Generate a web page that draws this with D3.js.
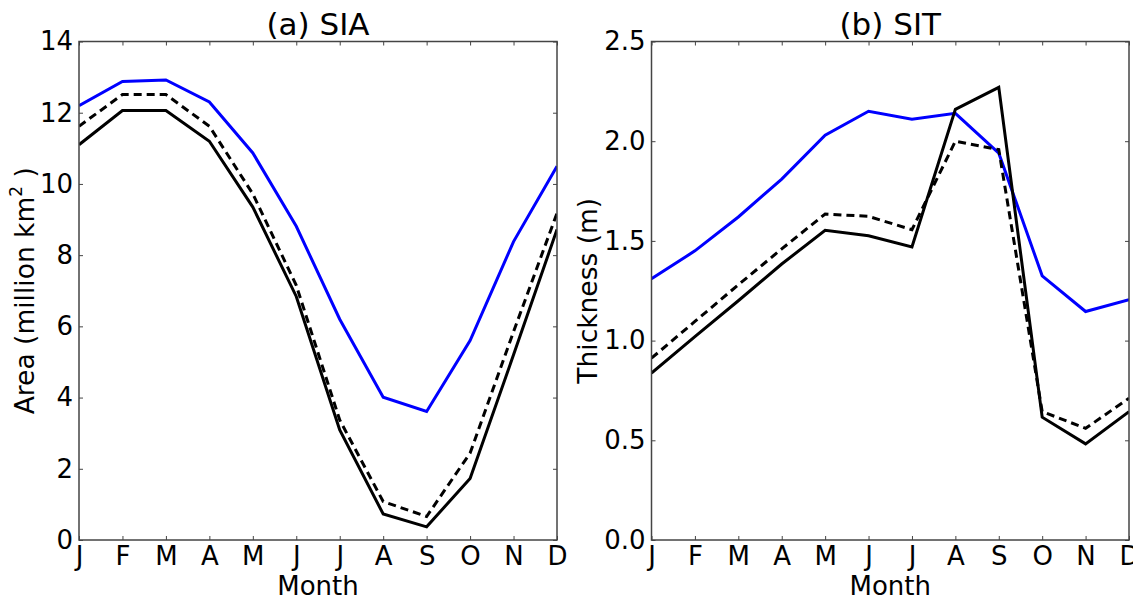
<!DOCTYPE html>
<html>
<head>
<meta charset="utf-8">
<script src="https://cdn.jsdelivr.net/npm/d3@7"></script>
<style>
  body { margin: 0; background: #fff; }
  svg { font-family: "DejaVu Sans", sans-serif; }
</style>
</head>
<body>
<div id="chart"></div>
<script>
// month tick labels
const months = ["J", "F", "M", "A", "M", "J", "J", "A", "S", "O", "N", "D"];

// (a) sea ice area, million km2
const siaBlue   = [12.2, 12.88, 12.92, 12.3, 10.87, 8.81, 6.2, 4.01, 3.61, 5.6, 8.38, 10.5];
const siaDashed = [11.62, 12.51, 12.51, 11.62, 9.72, 7.15, 3.37, 1.08, 0.66, 2.44, 5.85, 9.18];
const siaSolid  = [11.1, 12.06, 12.06, 11.2, 9.35, 6.84, 3.09, 0.73, 0.37, 1.73, 5.2, 8.72];

// (b) sea ice thickness, m
const sitBlue   = [1.31, 1.45, 1.62, 1.81, 2.03, 2.15, 2.11, 2.14, 1.94, 1.325, 1.146, 1.205];
const sitDashed = [0.912, 1.096, 1.28, 1.46, 1.635, 1.623, 1.556, 2.0, 1.958, 0.644, 0.56, 0.711];
const sitSolid  = [0.837, 1.02, 1.2, 1.384, 1.553, 1.526, 1.47, 2.16, 2.27, 0.616, 0.482, 0.644];

const areaTicks = [0, 2, 4, 6, 8, 10, 12, 14];
const thickTicks = [0, 0.5, 1.0, 1.5, 2.0, 2.5];

const W = 1133, H = 600;
const plotTop = 41.5, plotBottom = 540;
const frame = "#444";

const svg = d3.select("#chart").append("svg")
    .attr("width", W)
    .attr("height", H);

function drawPanel(opt) {
    let x = d3.scaleLinear().domain([0, 11]).range([opt.left, opt.right]);
    let y = d3.scaleLinear().domain(opt.yDomain).range([plotBottom, plotTop]);

    let g = svg.append("g");

    // clip the lines to the plot box
    let clipId = "clip-" + opt.id;
    g.append("clipPath").attr("id", clipId)
        .append("rect")
        .attr("x", opt.left).attr("y", plotTop)
        .attr("width", opt.right - opt.left).attr("height", plotBottom - plotTop);

    let line = d3.line()
        .x((d, i) => x(i))
        .y(d => y(d));

    let series = [
        { data: opt.blue, color: "#0000ff", dash: null },
        { data: opt.dashed, color: "#000", dash: "8,5" },
        { data: opt.solid, color: "#000", dash: null }
    ];

    g.append("g").attr("clip-path", "url(#" + clipId + ")")
        .selectAll("path")
        .data(series)
        .enter()
        .append("path")
        .attr("d", d => line(d.data))
        .attr("fill", "none")
        .attr("stroke", d => d.color)
        .attr("stroke-width", 3)
        .attr("stroke-linejoin", "miter")
        .attr("stroke-dasharray", d => d.dash);

    let xIdx = d3.range(12);

    // bottom axis with labels
    let xAxis = g.append("g")
        .attr("transform", "translate(0," + plotBottom + ")")
        .call(d3.axisBottom(x).tickValues(xIdx).tickFormat(i => months[i])
            .tickSizeInner(-4).tickSizeOuter(0).tickPadding(7));
    // top ticks
    let xTop = g.append("g")
        .attr("transform", "translate(0," + plotTop + ")")
        .call(d3.axisTop(x).tickValues(xIdx).tickFormat("")
            .tickSizeInner(-4).tickSizeOuter(0));
    // left axis with labels
    let yAxis = g.append("g")
        .attr("transform", "translate(" + opt.left + ",0)")
        .call(d3.axisLeft(y).tickValues(opt.ticks).tickFormat(opt.fmt)
            .tickSizeInner(-4).tickSizeOuter(0).tickPadding(6));
    // right ticks
    let yRight = g.append("g")
        .attr("transform", "translate(" + opt.right + ",0)")
        .call(d3.axisRight(y).tickValues(opt.ticks).tickFormat("")
            .tickSizeInner(-4).tickSizeOuter(0));

    [xAxis, xTop, yAxis, yRight].forEach(a => {
        a.select(".domain").remove();
        a.selectAll(".tick line").attr("stroke", frame).attr("stroke-width", 1);
        a.selectAll("text")
            .attr("font-size", 26)
            .attr("font-family", "DejaVu Sans, sans-serif")
            .attr("fill", "#000");
    });

    // frame
    g.append("rect")
        .attr("x", opt.left).attr("y", plotTop)
        .attr("width", opt.right - opt.left).attr("height", plotBottom - plotTop)
        .attr("fill", "none")
        .attr("stroke", frame)
        .attr("stroke-width", 1.5);

    let cx = (opt.left + opt.right) / 2;

    g.append("text")
        .attr("x", cx).attr("y", 35)
        .attr("text-anchor", "middle")
        .attr("font-size", 31)
        .text(opt.title);

    g.append("text")
        .attr("x", cx).attr("y", 595)
        .attr("text-anchor", "middle")
        .attr("font-size", 26)
        .text("Month");

    let yl = g.append("text")
        .attr("transform", "translate(" + (opt.left - opt.ylabelOffset) + "," + ((plotTop + plotBottom) / 2) + ") rotate(-90)")
        .attr("text-anchor", "middle")
        .attr("font-size", 26.5);
    opt.ylabel(yl);
}

drawPanel({
    id: "a",
    left: 79, right: 557,
    yDomain: [0, 14],
    ticks: areaTicks,
    fmt: d3.format("d"),
    blue: siaBlue, dashed: siaDashed, solid: siaSolid,
    title: "(a) SIA",
    ylabelOffset: 45,
    ylabel: t => {
        t.append("tspan").text("Area (million km");
        t.append("tspan").attr("font-size", 17).attr("dy", -12).text("2");
        t.append("tspan").attr("dy", 12).text(" )");
    }
});

drawPanel({
    id: "b",
    left: 651.5, right: 1129,
    yDomain: [0, 2.5],
    ticks: thickTicks,
    fmt: d3.format(".1f"),
    blue: sitBlue, dashed: sitDashed, solid: sitSolid,
    title: "(b) SIT",
    ylabelOffset: 55,
    ylabel: t => t.text("Thickness (m)")
});
</script>
</body>
</html>
